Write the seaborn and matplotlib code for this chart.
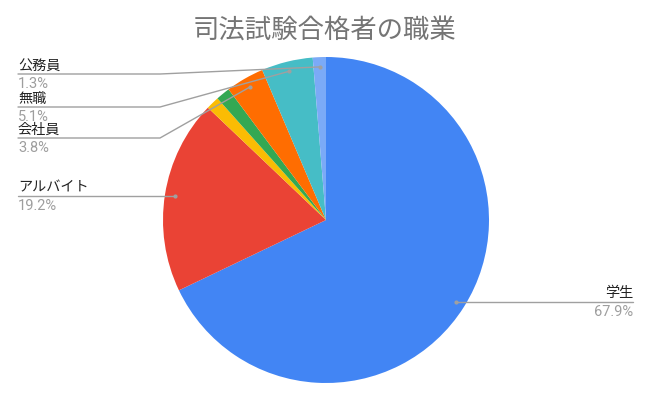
import numpy as np
import seaborn as sns
import matplotlib.pyplot as plt

# data
jobs = ["学生", "アルバイト", "", "", "会社員", "無職", "公務員"]
shares = [67.9, 19.2, 1.3, 1.4, 3.8, 5.1, 1.3]
colors = ["#4285F4", "#EA4335", "#FBBC04", "#34A853", "#FF6D01", "#46BDC6", "#7BAAF7"]
title = "司法試験合格者の職業"

sns.set_theme(style="white")
plt.rcParams['font.family'] = ['Noto Sans CJK JP', 'DejaVu Sans']

W, H = 650, 401
fig = plt.figure(figsize=(6.5, 4.01), dpi=100)
ax = fig.add_axes([0, 0, 1, 1])

cx, cy, r = 326, H - 220, 163
wedges, _ = ax.pie(shares, colors=colors, startangle=90, counterclock=False,
                   center=(cx, cy), radius=r, wedgeprops=dict(linewidth=0))
ax.set_xlim(0, W)
ax.set_ylim(0, H)
ax.set_aspect("equal")
ax.axis("off")

# label layout (pixel rows from the top for the crowded labels)
elbow_y = {"公務員": 74, "無職": 107, "会社員": 138}
line_col = "#a0a0a0"
pct_font = ['Roboto', 'DejaVu Sans']

for w, name, v in zip(wedges, jobs, shares):
    if not name:
        continue
    mid = np.deg2rad((w.theta1 + w.theta2) / 2)
    px = cx + 0.94 * r * np.cos(mid)
    py = cy + 0.94 * r * np.sin(mid)
    ax.plot(px, py, "o", ms=2, color=line_col, zorder=5)
    if px > cx:
        xe = 633
        ax.plot([px, xe], [py, py], color=line_col, lw=1)
        ax.text(xe, py + 4.5, name, ha="right", va="baseline", fontsize=10.2, color="#222222")
        ax.text(xe, py - 14, f"{v:.1f}%", ha="right", va="baseline", fontsize=10.5,
                color="#9e9e9e", family=pct_font)
    else:
        ly = H - elbow_y[name] if name in elbow_y else py
        xs = [px, 160, 18] if name in elbow_y else [px, 18]
        ys = [py, ly, ly] if name in elbow_y else [py, py]
        ax.plot(xs, ys, color=line_col, lw=1)
        ax.text(18, ly + 4.5, name, ha="left", va="baseline", fontsize=10.2, color="#222222")
        ax.text(18, ly - 14, f"{v:.1f}%", ha="left", va="baseline", fontsize=10.5,
                color="#9e9e9e", family=pct_font)

fig.text(0.5, 1 - 30 / H, title, ha="center", va="center", fontsize=19, color="#757575")

fig.savefig("out.png", dpi=100, facecolor="white")
